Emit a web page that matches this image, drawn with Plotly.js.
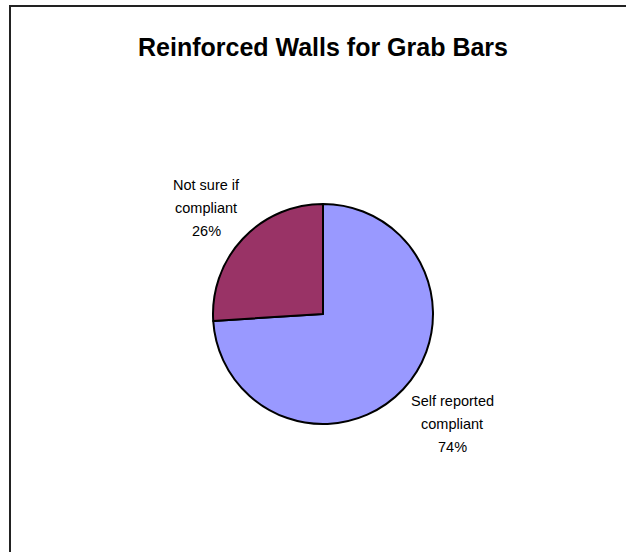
<!DOCTYPE html>
<html>
<head>
<meta charset="utf-8">
<script src="https://cdn.plot.ly/plotly-3.0.1.min.js"></script>
<style>
  html, body { margin: 0; padding: 0; background: #ffffff; overflow: hidden; }
  #wrap { position: relative; width: 626px; height: 552px; overflow: hidden; }
  #frame { position: absolute; left: 9px; top: 5px; width: 700px; height: 700px;
           border-left: 2px solid #222; border-top: 2px solid #222; box-sizing: border-box; pointer-events: none; z-index: 2; }
  #chart { position: absolute; left: 0; top: 0; width: 626px; height: 552px; }
</style>
</head>
<body>
<div id="wrap">
  <div id="chart"></div>
  <div id="frame"></div>
</div>
<script>
// Data
const categories = ['Self reported compliant', 'Not sure if compliant'];
const values = [74, 26];
const labelLines = [['Self reported', 'compliant'], ['Not sure if', 'compliant']];
const colors = ['#9999FF', '#993366'];
const chartTitle = 'Reinforced Walls for Grab Bars';

const W = 626, H = 552;
const cx = 323, cy = 314, r = 110;

const total = values.reduce((a, b) => a + b, 0);
const pct = values.map(v => Math.round(100 * v / total) + '%');

// Label anchor positions (pixels) for each category's text block
const labelPos = [[452, 424], [206, 208]];
const lineGap = 23;

const annotations = [];
categories.forEach((c, i) => {
  const lines = labelLines[i].concat([pct[i]]);
  lines.forEach((t, k) => {
    const py = labelPos[i][1] + (k - 1) * lineGap;
    annotations.push({
      x: labelPos[i][0] / W, y: 1 - py / H, xref: 'paper', yref: 'paper',
      text: t, showarrow: false, xanchor: 'center', yanchor: 'middle',
      font: { family: 'Liberation Sans, Arial, sans-serif', size: 14.5, color: '#000' }
    });
  });
});

const trace = {
  type: 'pie',
  labels: categories,
  values: values,
  sort: false,
  direction: 'clockwise',
  rotation: 0,
  textinfo: 'none',
  hoverinfo: 'label+percent',
  marker: { colors: colors, line: { color: '#000', width: 2 } },
  domain: { x: [(cx - r) / W, (cx + r) / W], y: [1 - (cy + r) / H, 1 - (cy - r) / H] },
  showlegend: false
};

const layout = {
  width: W, height: H,
  margin: { l: 0, r: 0, t: 0, b: 0 },
  paper_bgcolor: '#ffffff',
  title: {
    text: '<b>' + chartTitle + '</b>',
    x: 323 / W, xanchor: 'center', y: 1 - 47 / H, yanchor: 'middle',
    font: { family: 'Liberation Sans, Arial, sans-serif', size: 25, color: '#000' }
  },
  annotations: annotations,
  showlegend: false
};

Plotly.newPlot('chart', [trace], layout, { displayModeBar: false, staticPlot: true });
</script>
</body>
</html>
